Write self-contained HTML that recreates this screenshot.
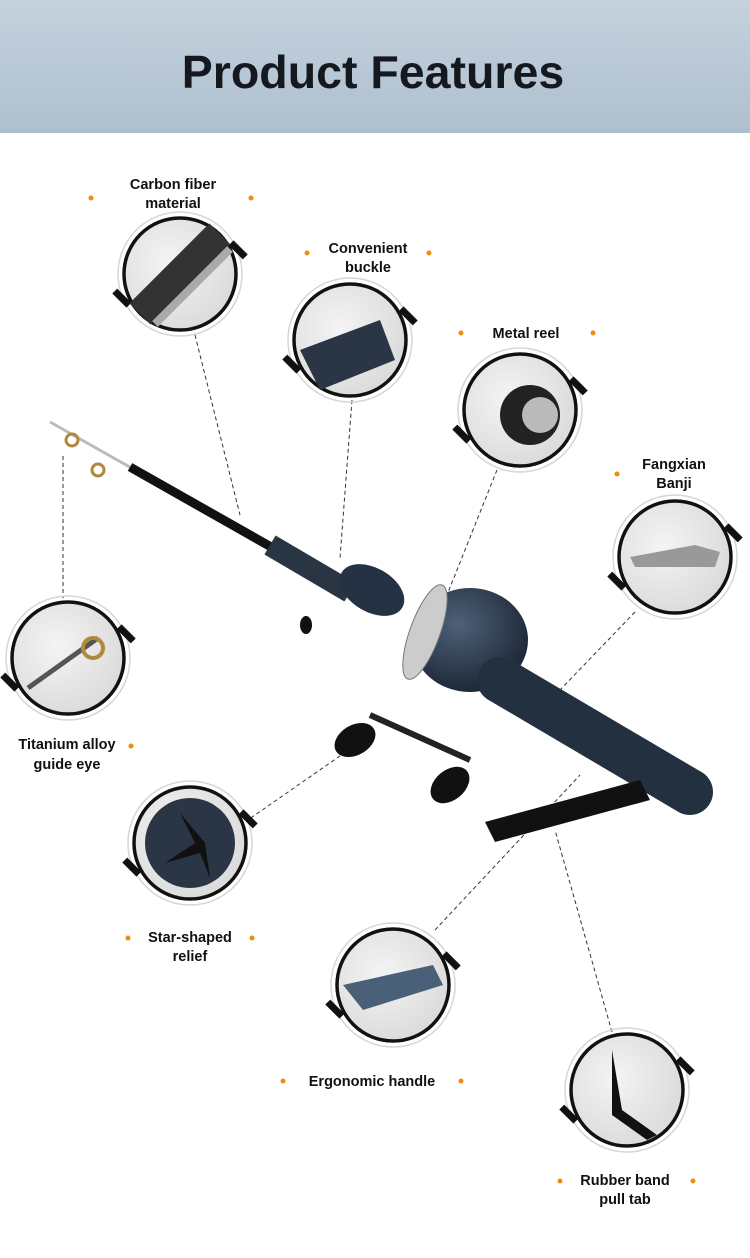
<!DOCTYPE html>
<html><head><meta charset="utf-8"><style>
body{margin:0;width:750px;height:1253px;background:#fff;overflow:hidden;font-family:"Liberation Sans",sans-serif}
</style></head><body>
<svg width="750" height="1253" viewBox="0 0 750 1253" xmlns="http://www.w3.org/2000/svg">
<defs>
<linearGradient id="hd" x1="0" y1="0" x2="0" y2="1"><stop offset="0" stop-color="#c5d2de"/><stop offset="1" stop-color="#aebfcf"/></linearGradient>
<radialGradient id="body" cx="0.4" cy="0.35" r="0.7"><stop offset="0" stop-color="#4e6178"/><stop offset="1" stop-color="#1a2433"/></radialGradient>
<radialGradient id="ph" cx="0.4" cy="0.4" r="0.7"><stop offset="0" stop-color="#f4f4f4"/><stop offset="1" stop-color="#d8d8d8"/></radialGradient>
<g id="ring">
<circle r="62" fill="none" stroke="#d6d6d6" stroke-width="1.5"/>
<circle r="56" fill="url(#ph)" stroke="#111" stroke-width="3.5"/>
<circle r="59" fill="none" stroke="#fff" stroke-width="2"/>
<g transform="rotate(-15)">
<rect x="-66" y="-2" width="7" height="20" fill="#111" transform="rotate(-30 -62 8)"/>
<rect x="59" y="-18" width="7" height="20" fill="#111" transform="rotate(-30 62 -8)"/>
</g>
</g>
</defs>
<rect width="750" height="133" fill="url(#hd)"/>
<text x="373" y="88" text-anchor="middle" font-size="46.5" font-weight="bold" fill="#15191f">Product Features</text>

<g stroke="#333" stroke-width="1" stroke-dasharray="4,3" fill="none">
<line x1="195" y1="335" x2="240" y2="515"/>
<line x1="352" y1="400" x2="340" y2="558"/>
<line x1="497" y1="470" x2="445" y2="600"/>
<line x1="635" y1="612" x2="560" y2="690"/>
<line x1="63" y1="600" x2="63" y2="455"/>
<line x1="245" y1="822" x2="360" y2="742"/>
<line x1="435" y1="930" x2="580" y2="775"/>
<line x1="612" y1="1032" x2="555" y2="830"/>
</g>

<line x1="50" y1="422" x2="135" y2="470" stroke="#bbb" stroke-width="3"/>
<line x1="130" y1="467" x2="280" y2="552" stroke="#111" stroke-width="9"/>
<line x1="270" y1="545" x2="350" y2="592" stroke="#2a3544" stroke-width="22"/>
<circle cx="72" cy="440" r="6" fill="none" stroke="#b08a3a" stroke-width="3"/>
<circle cx="98" cy="470" r="6" fill="none" stroke="#b08a3a" stroke-width="3"/>
<ellipse cx="372" cy="590" rx="35" ry="22" fill="#253244" transform="rotate(30 372 590)"/>
<ellipse cx="470" cy="640" rx="58" ry="52" fill="url(#body)"/>
<ellipse cx="425" cy="632" rx="15" ry="50" fill="#ccc" stroke="#777" transform="rotate(20 425 632)"/>
<line x1="500" y1="680" x2="690" y2="792" stroke="#22303f" stroke-width="46" stroke-linecap="round"/>
<path d="M485 822 L640 780 L650 800 L495 842 Z" fill="#111"/>
<ellipse cx="355" cy="740" rx="22" ry="15" fill="#111" transform="rotate(-30 355 740)"/>
<ellipse cx="450" cy="785" rx="22" ry="15" fill="#111" transform="rotate(-40 450 785)"/>
<line x1="370" y1="715" x2="470" y2="760" stroke="#222" stroke-width="6"/>
<ellipse cx="306" cy="625" rx="6" ry="9" fill="#111"/>

<g transform="translate(180,274)"><use href="#ring"/><line x1="-40" y1="40" x2="40" y2="-40" stroke="#333" stroke-width="30"/><line x1="-25" y1="50" x2="50" y2="-25" stroke="#aaa" stroke-width="8"/></g>
<g transform="translate(350,340)"><use href="#ring"/><path d="M-50 10 L30 -20 L45 20 L-30 50 Z" fill="#2a3545"/></g>
<g transform="translate(520,410)"><use href="#ring"/><circle cx="10" cy="5" r="30" fill="#222"/><circle cx="20" cy="5" r="18" fill="#bbb"/></g>
<g transform="translate(675,557)"><use href="#ring"/><path d="M-45 0 L20 -12 L45 -5 L40 10 L-40 10 Z" fill="#999"/></g>
<g transform="translate(68,658)"><use href="#ring"/><line x1="-40" y1="30" x2="30" y2="-20" stroke="#555" stroke-width="5"/><circle cx="25" cy="-10" r="10" fill="none" stroke="#b08a3a" stroke-width="4"/></g>
<g transform="translate(190,843)"><use href="#ring"/><circle r="45" fill="#2a3545"/><path d="M-10 -30 L5 0 L-25 20 L10 10 L20 35 L15 0 Z" fill="#111"/></g>
<g transform="translate(393,985)"><use href="#ring"/><path d="M-50 0 L40 -20 L50 0 L-30 25 Z" fill="#4a6078"/></g>
<g transform="translate(627,1090)"><use href="#ring"/><path d="M-15 -40 L-5 20 L30 45 L20 50 L-15 25 Z" fill="#111"/></g>

<g font-size="14.5" font-weight="bold" fill="#111" text-anchor="middle">
<text x="173" y="189">Carbon fiber</text><text x="173" y="208">material</text>
<text x="368" y="253">Convenient</text><text x="368" y="272">buckle</text>
<text x="526" y="338">Metal reel</text>
<text x="674" y="469">Fangxian</text><text x="674" y="488">Banji</text>
<text x="67" y="749">Titanium alloy</text><text x="67" y="769">guide eye</text>
<text x="190" y="942">Star-shaped</text><text x="190" y="961">relief</text>
<text x="372" y="1086">Ergonomic handle</text>
<text x="625" y="1185">Rubber band</text><text x="625" y="1204">pull tab</text>
</g>
<g fill="#f08a10">
<circle cx="91" cy="198" r="2.5"/><circle cx="251" cy="198" r="2.5"/>
<circle cx="307" cy="253" r="2.5"/><circle cx="429" cy="253" r="2.5"/>
<circle cx="461" cy="333" r="2.5"/><circle cx="593" cy="333" r="2.5"/>
<circle cx="617" cy="474" r="2.5"/>
<circle cx="131" cy="746" r="2.5"/>
<circle cx="128" cy="938" r="2.5"/><circle cx="252" cy="938" r="2.5"/>
<circle cx="283" cy="1081" r="2.5"/><circle cx="461" cy="1081" r="2.5"/>
<circle cx="560" cy="1181" r="2.5"/><circle cx="693" cy="1181" r="2.5"/>
</g>
</svg>
</body></html>
